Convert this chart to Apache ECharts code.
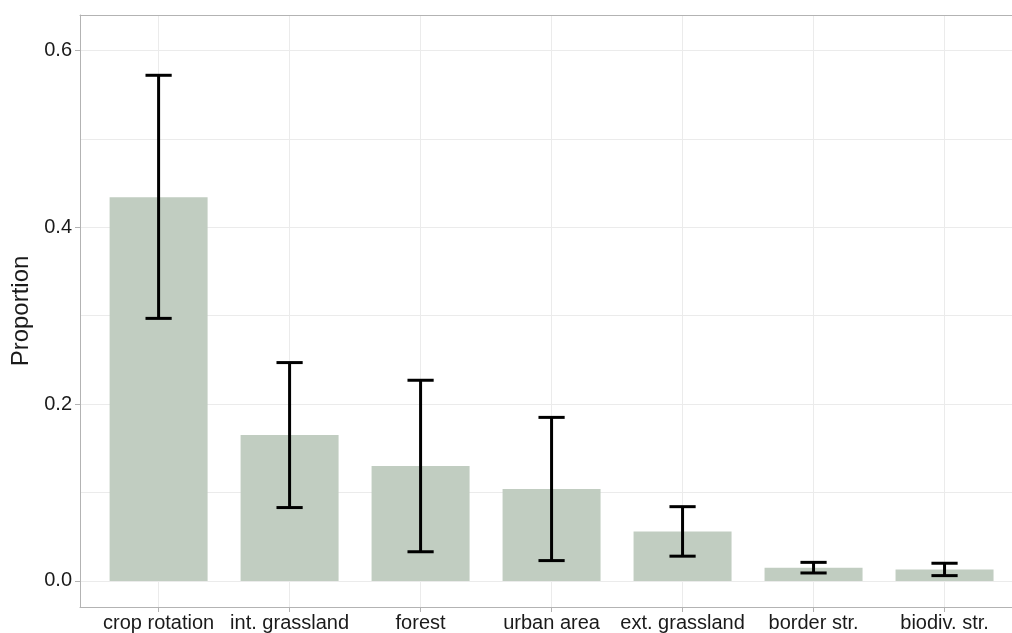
<!DOCTYPE html>
<html lang="en">
<head>
    <meta charset="utf-8">
    <title>Proportion by land use</title>
    <script src="https://cdn.jsdelivr.net/npm/echarts@6/dist/echarts.min.js"></script>
    <style>
        html, body { height: 100%; margin: 0; background: #fff; }
        #main { width: 1012px; height: 633px; }
    </style>
</head>
<body>
    <div id="main"></div>
    <script>
        // data
        var categories = ['crop rotation', 'int. grassland', 'forest', 'urban area', 'ext. grassland', 'border str.', 'biodiv. str.'];
        var proportion = [0.434, 0.165, 0.130, 0.104, 0.056, 0.015, 0.013];
        var errLower = [0.297, 0.083, 0.033, 0.023, 0.028, 0.009, 0.006];
        var errUpper = [0.572, 0.247, 0.227, 0.185, 0.084, 0.021, 0.020];
        var yMajor = [0, 0.2, 0.4, 0.6];
        var yMinor = [0.1, 0.3, 0.5];

        var catIdx = categories.map(function (c, i) { return i; });
        var gridColor = '#ebebeb';
        var borderColor = '#b3b3b3';
        var textColor = '#1a1a1a';
        var font = 'Liberation Sans, Arial, sans-serif';

        var myChart = echarts.init(document.getElementById('main'));

        // the panel is cut off on the right in the original, so the x range stops short of 6.6
        var xMin = -0.6, xMax = 6.515;
        var yMin = -0.0295, yMax = 0.6402;

        var option = {
            backgroundColor: '#fff',
            animation: false,
            grid: {
                left: 80,
                top: 15,
                right: 0,
                bottom: 25,
                show: false
            },
            xAxis: [
                {
                    type: 'value',
                    min: xMin,
                    max: xMax,
                    axisLine: { show: true, onZero: false, lineStyle: { color: borderColor, width: 1 } },
                    axisTick: {
                        show: true,
                        customValues: catIdx,
                        length: 5,
                        lineStyle: { color: borderColor, width: 1 }
                    },
                    axisLabel: {
                        customValues: catIdx,
                        margin: 6,
                        color: textColor,
                        fontSize: 20,
                        fontFamily: font,
                        formatter: function (v) { return categories[Math.round(v)]; }
                    },
                    splitLine: { show: true, lineStyle: { color: gridColor, width: 1 } }
                },
                {
                    // top border of the panel
                    type: 'value',
                    position: 'top',
                    min: xMin,
                    max: xMax,
                    axisLine: { show: true, onZero: false, lineStyle: { color: borderColor, width: 1 } },
                    axisTick: { show: false },
                    axisLabel: { show: false },
                    splitLine: { show: false }
                }
            ],
            yAxis: [
                {
                    // minor + major grid lines
                    type: 'value',
                    min: yMin,
                    max: yMax,
                    axisLine: { show: false },
                    axisTick: { show: false, customValues: yMajor.concat(yMinor) },
                    axisLabel: { show: false, customValues: yMajor.concat(yMinor) },
                    splitLine: { show: true, lineStyle: { color: gridColor, width: 1 } }
                },
                {
                    type: 'value',
                    position: 'left',
                    min: yMin,
                    max: yMax,
                    name: 'Proportion',
                    nameLocation: 'middle',
                    nameGap: 45,
                    nameRotate: 90,
                    nameTextStyle: { color: textColor, fontSize: 24, fontFamily: font },
                    axisLine: { show: true, onZero: false, lineStyle: { color: borderColor, width: 1 } },
                    axisTick: {
                        show: true,
                        customValues: yMajor,
                        length: 5,
                        lineStyle: { color: borderColor, width: 1 }
                    },
                    axisLabel: {
                        customValues: yMajor,
                        margin: 8,
                        color: textColor,
                        fontSize: 20,
                        fontFamily: font,
                        formatter: function (v) { return v.toFixed(1); }
                    },
                    splitLine: { show: false }
                }
            ],
            series: [
                {
                    type: 'bar',
                    yAxisIndex: 0,
                    barWidth: 98,
                    itemStyle: { color: '#c1cdc1' },
                    data: proportion.map(function (v, i) { return [i, v]; })
                },
                {
                    type: 'custom',
                    yAxisIndex: 0,
                    data: catIdx.map(function (i) { return [i, errLower[i], errUpper[i]]; }),
                    renderItem: function (params, api) {
                        var x = api.value(0);
                        var lo = api.coord([x, api.value(1)]);
                        var hi = api.coord([x, api.value(2)]);
                        var half = api.size([0.2, 0])[0] / 2;
                        var style = { stroke: '#000', lineWidth: 3 };
                        return {
                            type: 'group',
                            children: [
                                { type: 'line', shape: { x1: lo[0], y1: lo[1], x2: hi[0], y2: hi[1] }, style: style },
                                { type: 'line', shape: { x1: hi[0] - half, y1: hi[1], x2: hi[0] + half, y2: hi[1] }, style: style },
                                { type: 'line', shape: { x1: lo[0] - half, y1: lo[1], x2: lo[0] + half, y2: lo[1] }, style: style }
                            ]
                        };
                    },
                    z: 5
                }
            ]
        };

        myChart.setOption(option);
    </script>
</body>
</html>
